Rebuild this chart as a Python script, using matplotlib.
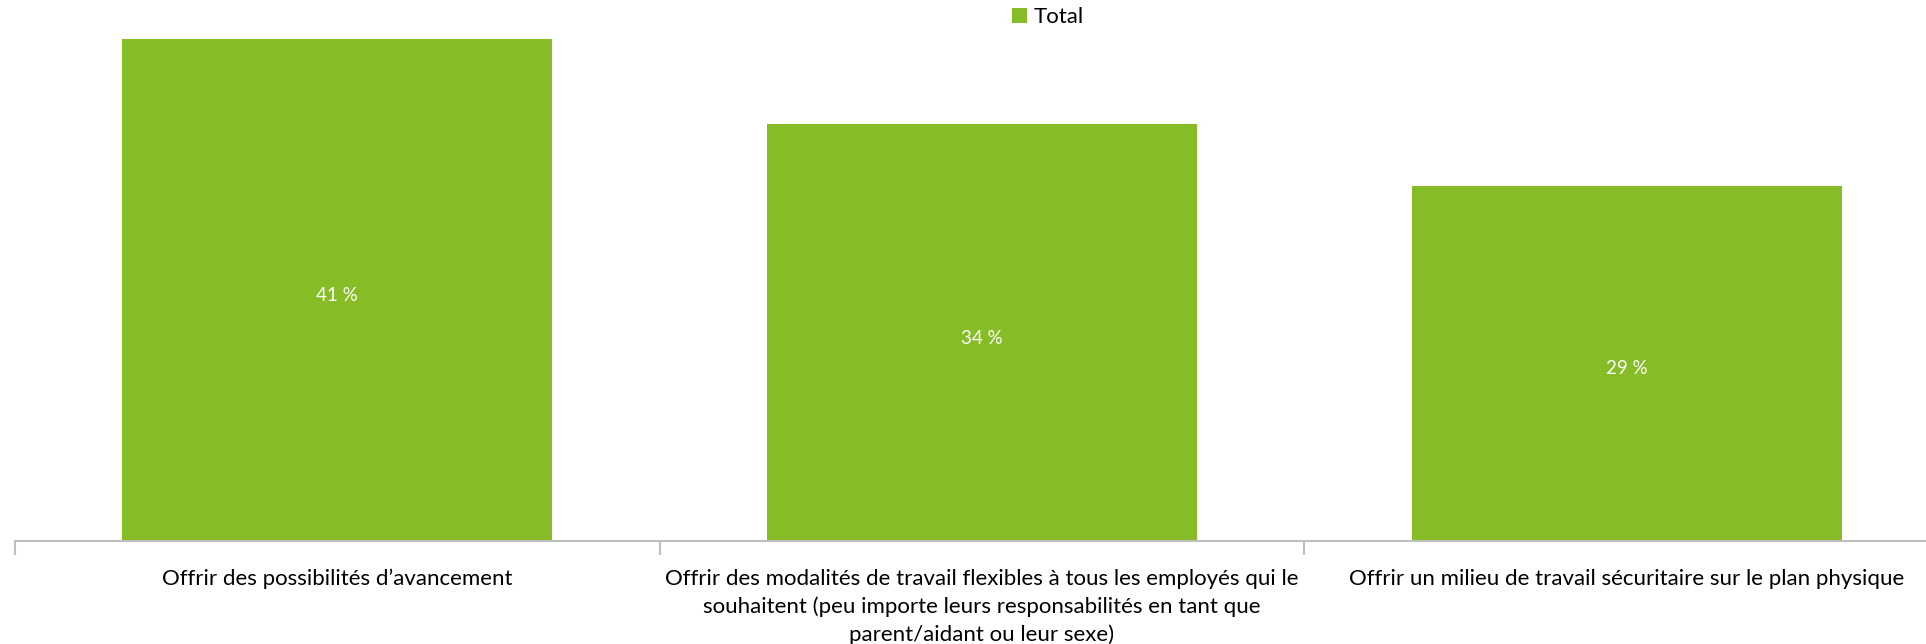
import matplotlib.pyplot as plt
import numpy as np

categories = [
    "Offrir des possibilités d’avancement",
    "Offrir des modalités de travail flexibles à tous les employés qui le\nsouhaitent (peu importe leurs responsabilités en tant que\nparent/aidant ou leur sexe)",
    "Offrir un milieu de travail sécuritaire sur le plan physique",
]
values = [41, 34, 29]
series_name = "Total"

green = "#86BC25"
grey = "#BFBFBF"

plt.rcParams["font.family"] = ["Lato", "DejaVu Sans"]

fig = plt.figure(figsize=(19.26, 6.44), dpi=100)
# plot area runs a little past the right edge, as in the reference
ax = fig.add_axes([15 / 1926, 103 / 644, 1934 / 1926, 527 / 644])

x = np.arange(len(categories))
bars = ax.bar(x, values, width=0.667, color=green, label=series_name)

for b, v in zip(bars, values):
    ax.annotate(f"{v} %", (b.get_x() + b.get_width() / 2, v / 2), xytext=(0, -4),
                textcoords="offset points", ha="center", va="center",
                color="white", fontsize=13.5)

ax.set_xlim(-0.5, len(categories) - 0.5)
ax.set_ylim(0, 43)
ax.set_yticks([])
for s in ["top", "right", "left"]:
    ax.spines[s].set_visible(False)
ax.spines["bottom"].set_color(grey)
ax.spines["bottom"].set_linewidth(1.5)

ax.set_xticks(x)
ax.set_xticklabels(categories, fontsize=16, va="top", ha="center", linespacing=1.45)
ax.tick_params(axis="x", which="major", length=0, pad=20)
ax.set_xticks(np.arange(-0.5, len(categories)), minor=True)
ax.tick_params(axis="x", which="minor", length=10, color=grey, width=1.5)

fig.legend(loc="center", bbox_to_anchor=(0.544, 0.973), frameon=False, fontsize=16,
           handlelength=0.7, handleheight=0.7, handletextpad=0.3)

fig.savefig("out.png", dpi=100)
